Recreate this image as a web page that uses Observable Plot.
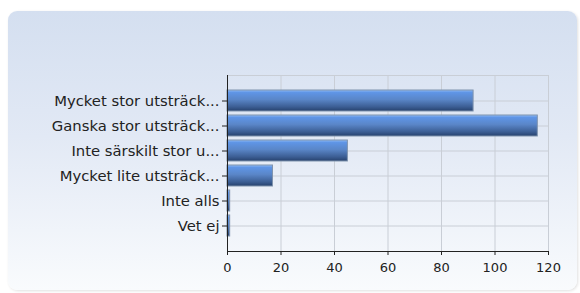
<!DOCTYPE html>
<html>
<head>
<meta charset="utf-8">
<script src="https://cdn.jsdelivr.net/npm/d3@7"></script>
<script src="https://cdn.jsdelivr.net/npm/@observablehq/plot@0.6"></script>
<style>
  html, body { margin: 0; padding: 0; background: #fff; }
  #wrap { position: relative; width: 580px; height: 293px; overflow: hidden; background: #fff; }
  #panel { position: absolute; left: 8px; top: 11px; width: 569px; height: 279px; border-radius: 9px;
    background: linear-gradient(to bottom, #d4dff0 0%, #e2e9f5 45%, #f9fbfd 100%);
    box-shadow: 1px 1px 3px rgba(0,0,0,0.12); }
  #chart { position: absolute; left: 0; top: 0; }
  #chart svg { background: transparent; }
</style>
</head>
<body>
<div id="wrap"><div id="panel"></div><div id="chart"></div></div>
<script>
const categories = ["Mycket stor utsträck...", "Ganska stor utsträck...", "Inte särskilt stor u...", "Mycket lite utsträck...", "Inte alls", "Vet ej"];
const values = [92, 116, 45, 17, 1, 1];
const xTicks = [0, 20, 40, 60, 80, 100, 120];

const data = categories.map((c, i) => ({category: c, value: values[i]}));

const chart = Plot.plot({
  width: 580,
  height: 293,
  marginLeft: 227,
  marginRight: 32,
  marginTop: 75,
  marginBottom: 42,
  style: {fontFamily: "DejaVu Sans, Verdana, sans-serif", fontSize: "12px", color: "#222", background: "transparent"},
  x: {domain: [0, 120], ticks: xTicks, label: null},
  y: {domain: categories, paddingInner: 0.16, paddingOuter: 0.58, label: null},
  marks: [
    Plot.gridX(xTicks.filter(d => d > 0), {stroke: "#c9ced6", strokeOpacity: 1}),
    Plot.gridY({stroke: "#c9ced6", strokeOpacity: 1}),
    Plot.frame({anchor: "top", stroke: "#c9ced6"}),
    Plot.barX(data, {x: "value", y: "category", fill: "url(#barGrad)", stroke: "#7f93ad", strokeWidth: 1}),
    Plot.axisX({ticks: xTicks, tickSize: 4, tickPadding: 7, fill: "#222", fontSize: 13, label: null}),
    Plot.axisY({tickSize: 5, tickPadding: 3, fill: "#222", fontSize: 14.8, label: null}),
    Plot.frame({anchor: "left", stroke: "#222"}),
    Plot.frame({anchor: "bottom", stroke: "#222"})
  ]
});

const svg = d3.select(chart);
const defs = svg.insert("defs", ":first-child");
const g = defs.append("linearGradient").attr("id", "barGrad").attr("x1", 0).attr("y1", 0).attr("x2", 0).attr("y2", 1);
g.append("stop").attr("offset", "0%").attr("stop-color", "#8fbaf5");
g.append("stop").attr("offset", "12%").attr("stop-color", "#5f95e6");
g.append("stop").attr("offset", "45%").attr("stop-color", "#5a86c8");
g.append("stop").attr("offset", "80%").attr("stop-color", "#3c5e94");
g.append("stop").attr("offset", "100%").attr("stop-color", "#26416d");

document.getElementById("chart").appendChild(chart);
</script>
</body>
</html>
